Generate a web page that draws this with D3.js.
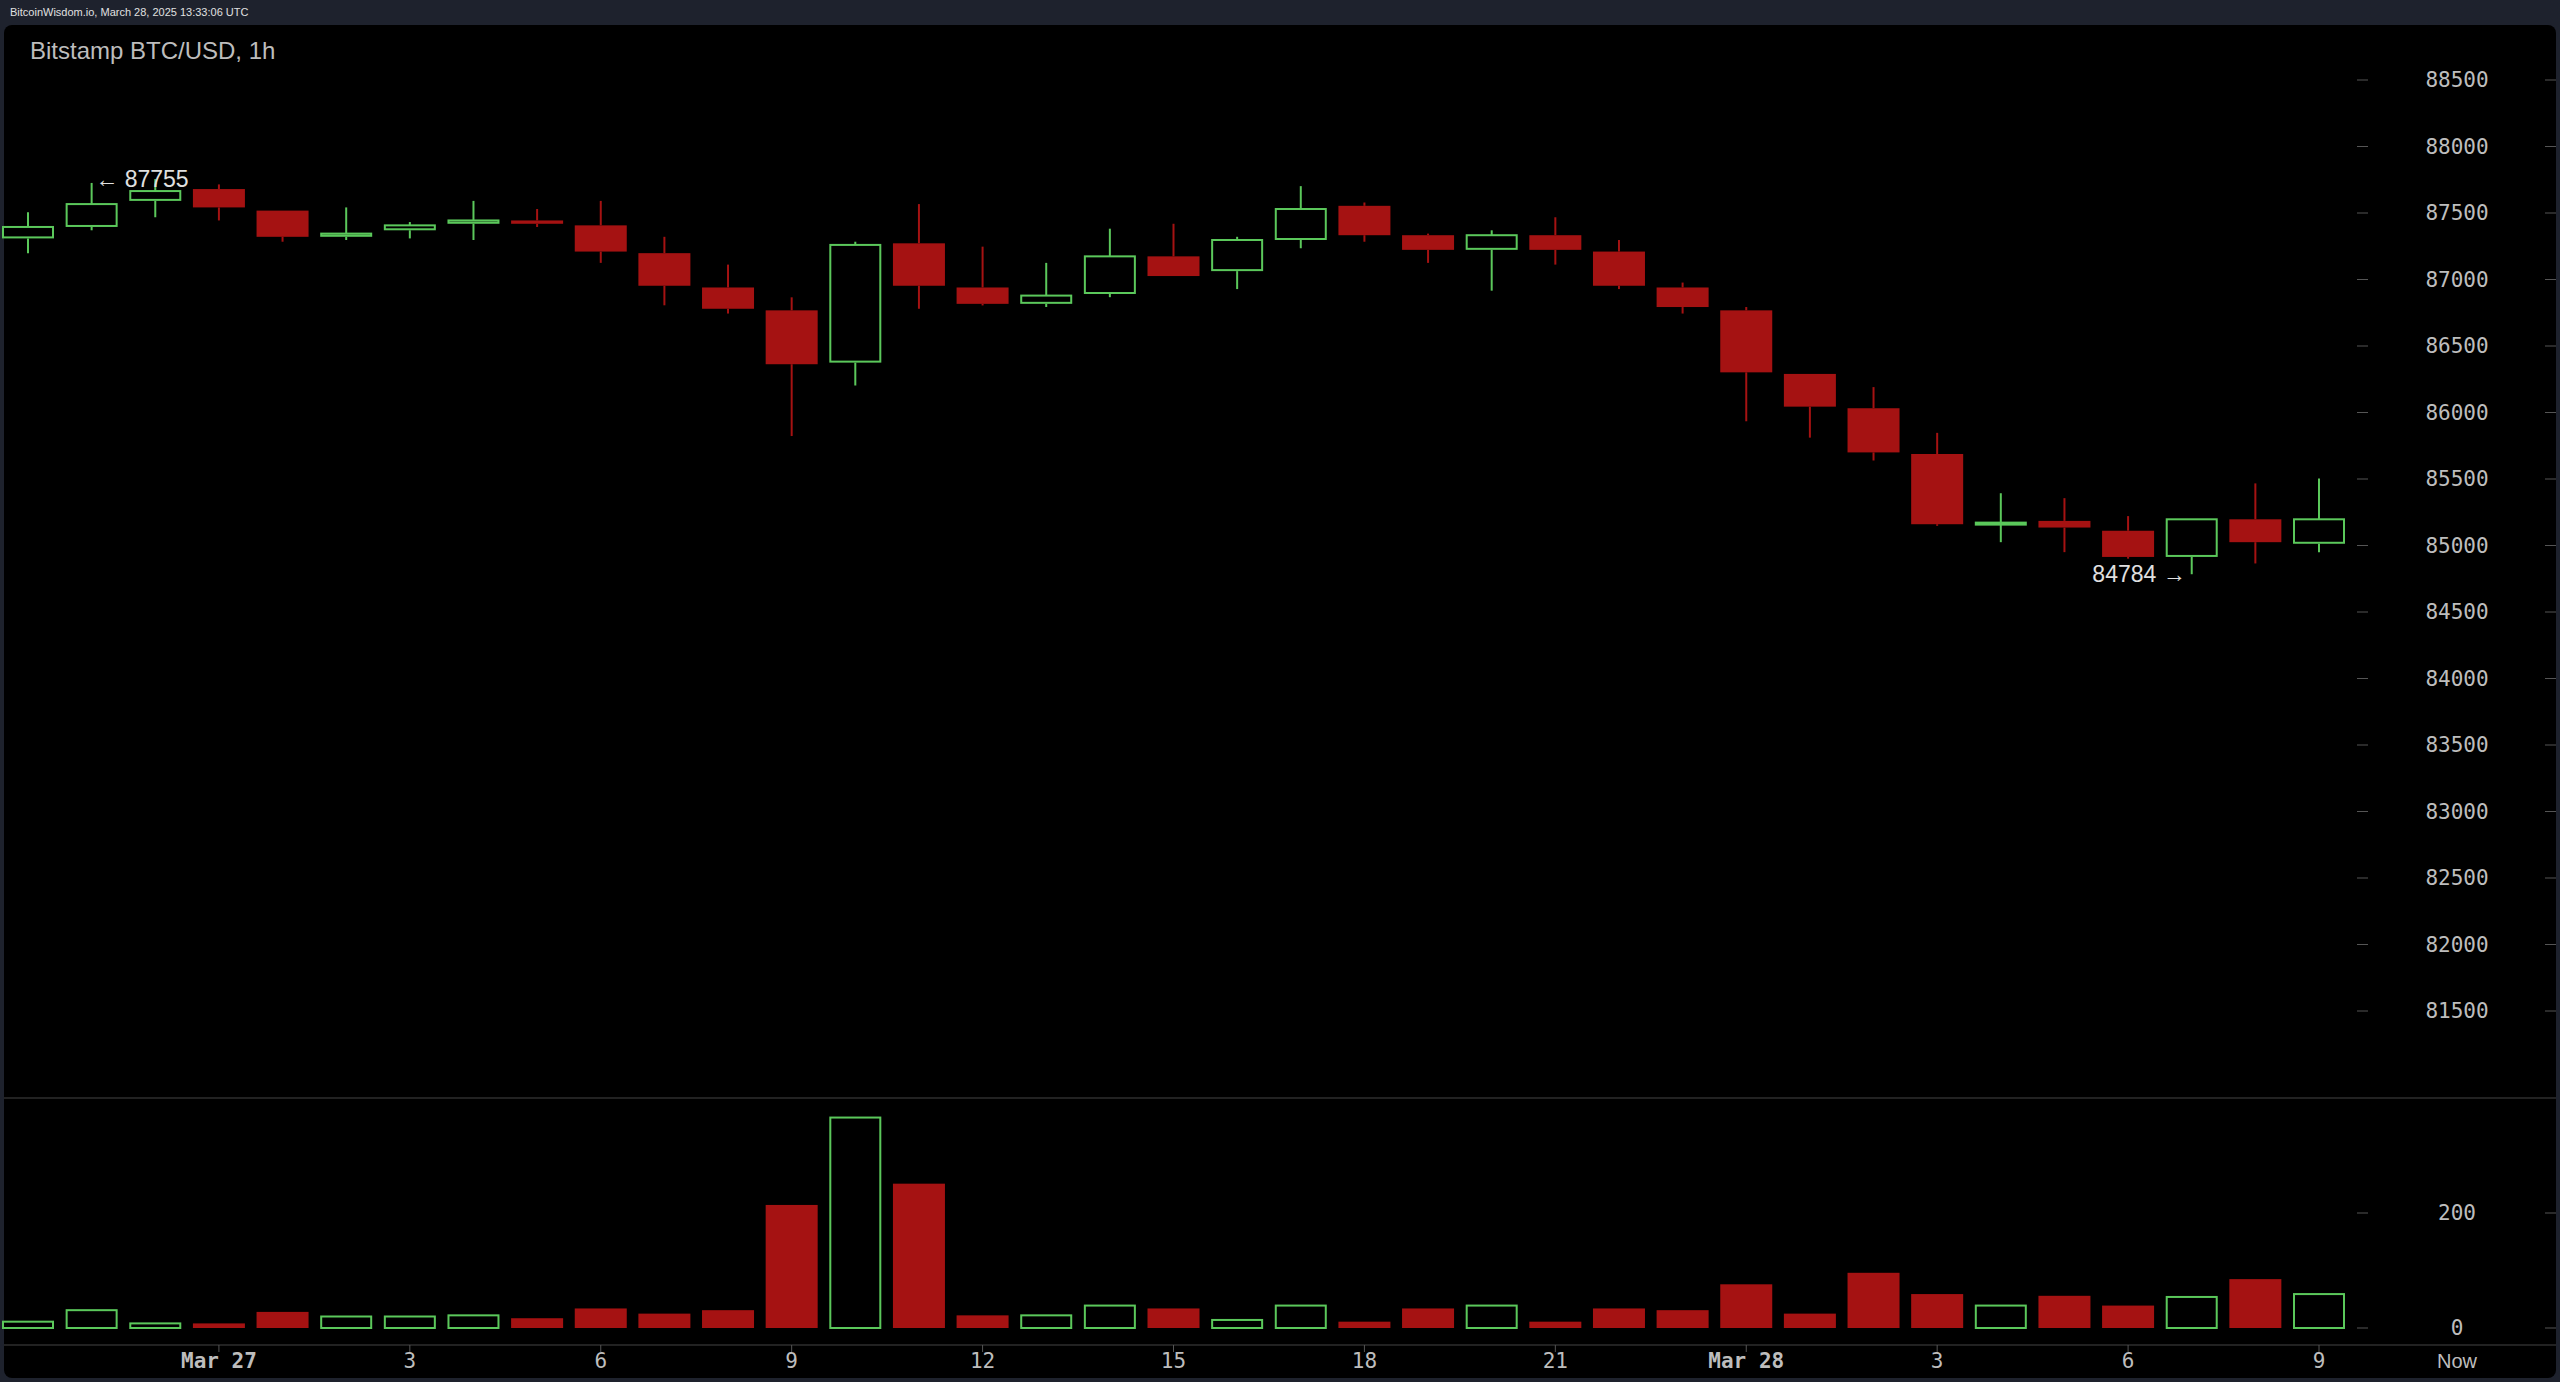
<!DOCTYPE html>
<html>
<head>
<meta charset="utf-8">
<script src="https://cdn.jsdelivr.net/npm/d3@7"></script>
<style>
  html, body { margin: 0; padding: 0; background: #1e222d; }
  svg { display: block; }
</style>
</head>
<body>
<svg id="chart" width="2560" height="1382"></svg>
<script>
// hours relative to Mar 27 00:00 UTC
const hours = d3.range(-3, 34);
const opens  = [87309,87395,87591,87680,87518,87321,87370,87419,87444,87407,87198,86940,86768,86375,87272,86940,86817,86891,87174,87063,87297,87554,87333,87223,87333,87210,86940,86768,86290,86032,85688,85160,85185,85111,84914,85197,85013];
const highs  = [87505,87726,87755,87715,87518,87542,87432,87591,87530,87591,87321,87112,86866,87284,87567,87247,87125,87382,87419,87321,87702,87579,87345,87370,87468,87297,86977,86793,86290,86191,85847,85393,85356,85221,85197,85467,85504];
const lows   = [87198,87370,87468,87444,87284,87297,87309,87297,87395,87125,86806,86744,85823,86203,86780,86805,86793,86867,87026,86928,87235,87284,87125,86916,87112,86928,86744,85934,85811,85639,85148,85025,84950,84901,84784,84865,84950];
const closes = [87395,87567,87665,87542,87321,87345,87407,87444,87419,87210,86953,86780,86363,87260,86953,86817,86879,87174,87026,87297,87530,87333,87223,87333,87223,86953,86793,86302,86044,85700,85160,85172,85135,84914,85197,85025,85197];
const volumes = [11,31,8,8,28,20,20,22,17,34,25,31,214,366,251,22,22,39,34,14,39,11,34,39,11,34,31,76,25,96,59,39,56,39,54,85,59];
const priceTicks = d3.range(81500, 88501, 500);
const volTicks = [0, 200];
const timeTicks = [0,3,6,9,12,15,18,21,24,27,30,33];
const timeLabels = ["Mar 27","3","6","9","12","15","18","21","Mar 28","3","6","9"];

const svg = d3.select("#chart");
const up = "#5bc85b", down = "#a51212", txt = "#bdbdbd";

svg.append("text").attr("x", 10).attr("y", 16).attr("fill", "#e0e0e0")
  .attr("font-family", "Liberation Sans, Arial").attr("font-size", 11)
  .text("BitcoinWisdom.io, March 28, 2025 13:33:06 UTC");

svg.append("rect").attr("x", 4).attr("y", 25).attr("width", 2552).attr("height", 1353)
  .attr("rx", 8).attr("fill", "#000");

svg.append("text").attr("x", 30).attr("y", 59).attr("fill", txt)
  .attr("font-family", "Liberation Sans, Arial").attr("font-size", 24)
  .text("Bitstamp BTC/USD, 1h");

const x = d3.scaleLinear().domain([-3, 33]).range([28, 2319]);
const y = d3.scaleLinear().domain([81500, 88500]).range([1011, 80]);
const yv = d3.scaleLinear().domain([0, 200]).range([1328, 1213]);
const bw = 52;

// separators
svg.append("line").attr("x1", 4).attr("x2", 2556).attr("y1", 1098).attr("y2", 1098).attr("stroke", "#444");
svg.append("line").attr("x1", 4).attr("x2", 2556).attr("y1", 1345).attr("y2", 1345).attr("stroke", "#444");

const mono = "DejaVu Sans Mono, monospace";
// price axis
const pa = svg.append("g");
priceTicks.forEach(p => {
  pa.append("line").attr("x1", 2357).attr("x2", 2368).attr("y1", y(p)).attr("y2", y(p)).attr("stroke", "#555");
  pa.append("line").attr("x1", 2545).attr("x2", 2556).attr("y1", y(p)).attr("y2", y(p)).attr("stroke", "#555");
  pa.append("text").attr("x", 2457).attr("y", y(p) + 7).attr("text-anchor", "middle")
    .attr("fill", txt).attr("font-family", mono).attr("font-size", 21).text(p);
});
volTicks.forEach(v => {
  pa.append("line").attr("x1", 2357).attr("x2", 2368).attr("y1", yv(v)).attr("y2", yv(v)).attr("stroke", "#555");
  pa.append("line").attr("x1", 2545).attr("x2", 2556).attr("y1", yv(v)).attr("y2", yv(v)).attr("stroke", "#555");
  pa.append("text").attr("x", 2457).attr("y", yv(v) + 7).attr("text-anchor", "middle")
    .attr("fill", txt).attr("font-family", mono).attr("font-size", 21).text(v);
});

// time axis
timeTicks.forEach((t, i) => {
  svg.append("line").attr("x1", x(t)).attr("x2", x(t)).attr("y1", 1345).attr("y2", 1352).attr("stroke", "#555");
  const bold = timeLabels[i].startsWith("Mar");
  svg.append("text").attr("x", x(t)).attr("y", 1368).attr("text-anchor", "middle")
    .attr("fill", txt).attr("font-family", mono)
    .attr("font-weight", bold ? "bold" : "normal").attr("font-size", 21)
    .text(timeLabels[i]);
});
svg.append("text").attr("x", 2457).attr("y", 1368).attr("text-anchor", "middle")
  .attr("fill", txt).attr("font-family", "Liberation Sans, Arial").attr("font-size", 20).text("Now");

// candles
const c = svg.append("g");
hours.forEach((h, i) => {
  const isUp = closes[i] >= opens[i];
  const col = isUp ? up : down;
  const cx = x(h);
  const top = y(Math.max(opens[i], closes[i])), bot = y(Math.min(opens[i], closes[i]));
  c.append("line").attr("x1", cx).attr("x2", cx).attr("y1", y(highs[i])).attr("y2", top).attr("stroke", col).attr("stroke-width", 2);
  c.append("line").attr("x1", cx).attr("x2", cx).attr("y1", bot).attr("y2", y(lows[i])).attr("stroke", col).attr("stroke-width", 2);
  const hgt = Math.max(bot - top, 3);
  if (isUp) {
    c.append("rect").attr("x", cx - bw / 2 + 1).attr("y", top).attr("width", bw - 2).attr("height", Math.max(hgt - 1, 2))
      .attr("fill", "none").attr("stroke", col).attr("stroke-width", 2);
  } else {
    c.append("rect").attr("x", cx - bw / 2).attr("y", top).attr("width", bw).attr("height", hgt).attr("fill", col);
  }
  // volume
  const vt = yv(volumes[i]);
  if (isUp) {
    c.append("rect").attr("x", cx - bw / 2 + 1).attr("y", vt).attr("width", bw - 2).attr("height", yv(0) - vt)
      .attr("fill", "none").attr("stroke", col).attr("stroke-width", 2);
  } else {
    c.append("rect").attr("x", cx - bw / 2).attr("y", vt).attr("width", bw).attr("height", yv(0) - vt).attr("fill", col);
  }
});

// high / low annotations
const hi = d3.maxIndex(highs), lo = d3.minIndex(lows);
svg.append("text").attr("x", x(hours[hi]) - 60).attr("y", y(highs[hi]) + 8)
  .attr("fill", "#e0e0e0").attr("font-family", "Liberation Sans, Arial").attr("font-size", 23)
  .text("← " + highs[hi]);
svg.append("text").attr("x", x(hours[lo]) - 6).attr("y", y(lows[lo]) + 8).attr("text-anchor", "end")
  .attr("fill", "#e0e0e0").attr("font-family", "Liberation Sans, Arial").attr("font-size", 23)
  .text(lows[lo] + " →");
</script>
</body>
</html>
